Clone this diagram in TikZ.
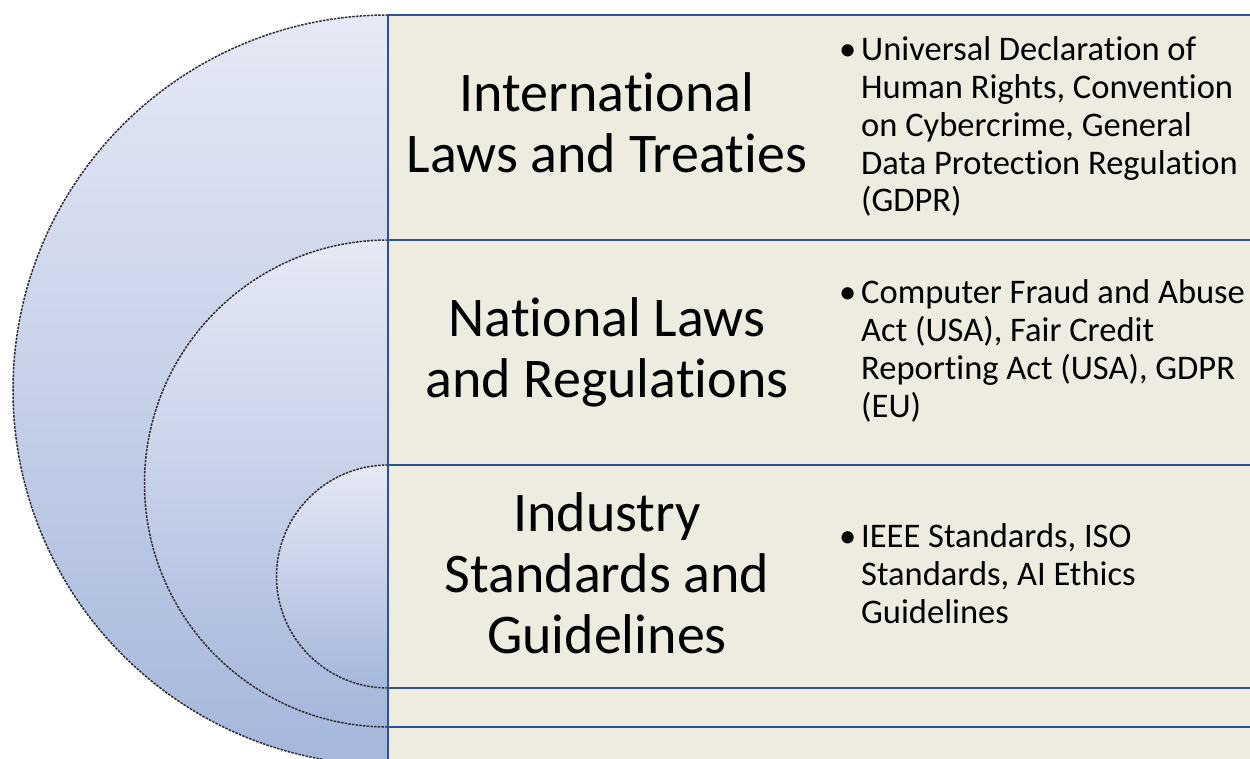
\documentclass[tikz,border=0pt]{standalone}
\usepackage{fontspec}
\setmainfont{Carlito}[RawFeature={-liga,-clig,-dlig,-calt}]
\usetikzlibrary{calc}
\definecolor{ringtop}{RGB}{230,233,245}
\definecolor{ringbot}{RGB}{166,183,220}
\definecolor{panelfill}{RGB}{238,236,225}
\definecolor{panelline}{RGB}{44,84,148}
\definecolor{ringline}{RGB}{45,45,50}
\tikzset{
  ring/.style={top color=ringtop, bottom color=ringbot, draw=ringline,
    line width=1.5pt, dash pattern=on 2.5pt off 1.2pt},
  panel/.style={fill=panelfill, draw=panelline, line width=1.8pt},
  title/.style={inner sep=0pt, align=center, anchor=base,
    font=\fontsize{56}{61}\selectfont},
  items/.style={inner sep=0pt, align=left, anchor=base west,
    font=\fontsize{34.5}{37.8}\selectfont},
}
\newcommand{\bul}{\makebox[22pt][l]{•}}
\newcommand{\ind}{\hspace*{22pt}}
\begin{document}
\begin{tikzpicture}[x=1pt,y=-1pt]
\useasboundingbox (0,0) rectangle (1250,759);
\clip (0,0) rectangle (1250,759);
\fill[white] (0,0) rectangle (1250,759);
% outer ring and its panel
\path[ring] (388,15) arc[start angle=270, end angle=90, radius=375] -- cycle;
\path[panel] (388,15) rectangle (1265,765);
% middle ring and its panel
\path[ring] (388,240) arc[start angle=270, end angle=90, radius=243.5] -- cycle;
\path[panel] (388,240) rectangle (1265,727);
% inner ring and its panel
\path[ring] (388,465) arc[start angle=270, end angle=90, radius=111.5] -- cycle;
\path[panel] (388,465) rectangle (1265,688);
% headings (anchored at the baseline of their last line)
\node[title] (t1) at (607,173) {International\\Laws and Treaties};
\node[title] (t2) at (607,397) {National Laws\\and Regulations};
\node[title] (t3) at (607,653) {Industry\\Standards and\\Guidelines};
% bullet texts
\node[items] (b1) at (839,212) {\bul Universal Declaration of\\\ind Human Rights, Convention\\\ind on Cybercrime, General\\\ind Data Protection Regulation\\\ind (GDPR)};
\node[items] (b2) at (839,417) {\bul Computer Fraud and Abuse\\\ind Act (USA), Fair Credit\\\ind Reporting Act (USA), GDPR\\\ind (EU)};
\node[items] (b3) at (839,623) {\bul IEEE Standards, ISO\\\ind Standards, AI Ethics\\\ind Guidelines};
\end{tikzpicture}
\end{document}
